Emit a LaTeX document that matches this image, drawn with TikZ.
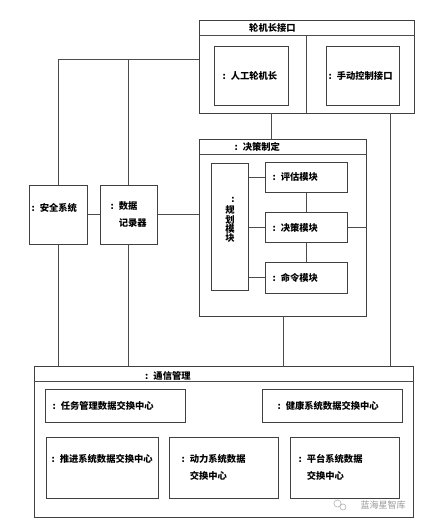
\documentclass[tikz,border=0pt]{standalone}
\usepackage{fontspec}
\setmainfont{Noto Sans CJK SC}
\usetikzlibrary{fit}
\newcommand\cl{:\hspace{5pt}}
\begin{document}
\begin{tikzpicture}[x=1pt,y=-1pt,
 box/.style={draw=black!75, line width=0.8pt, inner sep=0pt, fill=white},
 conn/.style={draw=black!70, line width=0.8pt},
 txt/.style={inner sep=0pt, anchor=west, font=\fontsize{9.3}{16.7}\selectfont\bfseries, align=left},
 wm/.style={inner sep=0pt, text=black!40, font=\fontsize{9}{9}\selectfont}]
\useasboundingbox (0,0) rectangle (440,528);

% ---------- boxes ----------
\node[box, fit={(199.3,20.7) (414,113)}] (lk) {};
\node[box, fit={(214,46) (288,105)}] (rg) {};
\node[box, fit={(326,46) (399.3,105)}] (sd) {};

\node[box, fit={(199.3,139.3) (366.7,316)}] (jc) {};
\node[box, fit={(211,163.3) (248.7,290.7)}] (gh) {};
\node[box, fit={(265.3,162.3) (347.3,192.3)}] (pg) {};
\node[box, fit={(265.3,212.7) (347.3,242.3)}] (jm) {};
\node[box, fit={(265.3,262.3) (347.3,293)}] (ml) {};

\node[box, fit={(29,185) (87.7,244.3)}] (aq) {};
\node[box, fit={(100,185) (157.7,244.3)}] (sj) {};

\node[box, fit={(34.3,366.7) (413.3,517.7)}] (tx) {};
\node[box, fit={(45,389.3) (185.7,422.7)}] (rw) {};
\node[box, fit={(262.3,389.3) (402.7,422.7)}] (jk) {};
\node[box, fit={(46.7,437.3) (158.3,498.3)}] (tj) {};
\node[box, fit={(169.7,437.3) (278.3,498.3)}] (dl) {};
\node[box, fit={(290.3,437.3) (399.3,498.3)}] (pt) {};

% ---------- title bands and divider ----------
\coordinate (lkband) at (0,35.7);
\coordinate (lkdiv) at (306.7,0);
\coordinate (jcband) at (0,154);
\coordinate (txband) at (0,381.7);
\draw[conn] (lk.west |- lkband) -- (lk.east |- lkband);
\draw[conn] (lkdiv |- lkband) -- (lkdiv |- lk.south);
\draw[conn] (jc.west |- jcband) -- (jc.east |- jcband);
\draw[conn] (tx.west |- txband) -- (tx.east |- txband);

% ---------- connectors ----------
\coordinate (c1) at (0,59);
\coordinate (lkx1) at (271.7,0);
\coordinate (lkx2) at (390,0);
\draw[conn] (aq.north) -- (aq.north |- c1) -- (c1 -| lk.west);
\draw[conn] (sj.north) -- (sj.north |- c1);
\draw[conn] (aq.east) -- (sj.west);
\draw[conn] (sj.east) -- (sj.east -| jc.west);
\draw[conn] (aq.south) -- (aq.south |- tx.north);
\draw[conn] (sj.south) -- (sj.south |- tx.north);
\draw[conn] (lkx1 |- lk.south) -- (lkx1 |- jc.north);
\draw[conn] (lkx2 |- lk.south) -- (lkx2 |- tx.north);
\draw[conn] (jc.south) -- (jc.south |- tx.north);
\draw[conn] (gh.east |- pg.west) -- (pg.west);
\draw[conn] (gh.east |- jm.west) -- (jm.west);
\draw[conn] (gh.east |- ml.west) -- (ml.west);
\draw[conn] (pg.south) -- (jm.north);
\draw[conn] (jm.south) -- (ml.north);
\draw[conn] (jm.east) -- (jm.east -| jc.east);

% ---------- texts ----------
\node[txt] (tlk) at (249,27.8) {轮机长接口};
\node[txt] (trg) at (222.3,76) {\cl 人工轮机长};
\node[txt] (tsd) at (328.3,76) {\cl 手动控制接口};
\node[txt] (tjc) at (234.3,147) {\cl 决策制定};
\node[txt] (tpg) at (272.3,176.8) {\cl 评估模块};
\node[txt] (tjm) at (272.3,227.5) {\cl 决策模块};
\node[txt] (tml) at (272.3,277.5) {\cl 命令模块};
\node[inner sep=0pt, font=\fontsize{9.3}{9.3}\selectfont\bfseries, align=center] (tgh) at (230,220)
  {\hspace{6pt}:\\[2pt]规\\划\\模\\块};
\node[txt] (taq) at (31.3,208) {\cl 安全系统};
\node[txt] (tsj) at (110.3,214.2) {\cl 数据\\\phantom{\cl}记录器};
\node[txt] (ttx) at (145,375.7) {\cl 通信管理};
\node[txt] (trw) at (52.3,405.7) {\cl 任务管理数据交换中心};
\node[txt] (tjk) at (277.3,405.7) {\cl 健康系统数据交换中心};
\node[txt] (ttj) at (51.3,459) {\cl 推进系统数据交换中心};
\node[txt] (tdl) at (181.3,467.3) {\cl 动力系统数据\\\phantom{\cl}交换中心};
\node[txt] (tpt) at (298.3,467.3) {\cl 平台系统数据\\\phantom{\cl}交换中心};

% ---------- watermark ----------
\node[wm] (wmt) at (383,505) {蓝海星智库};
\draw[black!30, line width=0.6pt] (337.5,503.5) circle (3.6);
\draw[black!30, line width=0.6pt, fill=white] (343,507) circle (3);
\end{tikzpicture}
\end{document}
